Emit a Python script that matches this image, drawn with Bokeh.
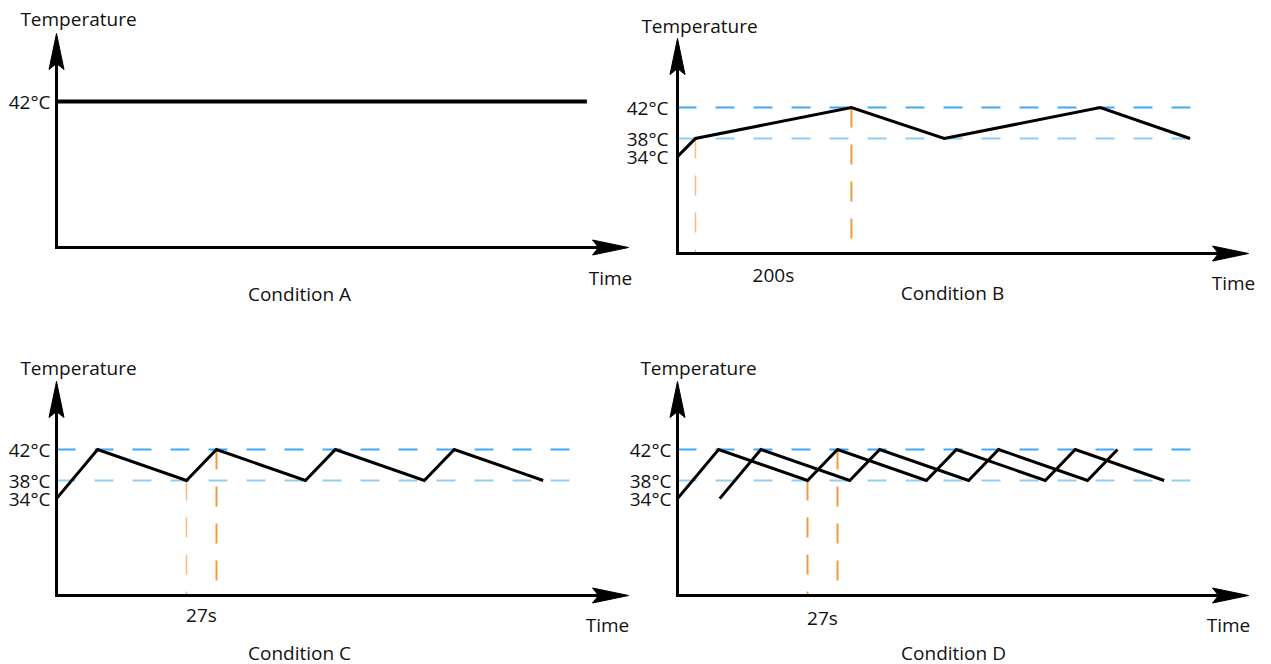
import math

from bokeh.core.properties import value
from bokeh.embed import file_html
from bokeh.models import LogScale, Range1d
from bokeh.plotting import figure
from bokeh.resources import INLINE

# ---------------------------------------------------------------- data
TICK_TEMPS = [42, 38, 34]
TICK_LABELS = ["42°C", "38°C", "34°C"]

# Condition A: a constant 42 °C hold
a_time = [0, 680]
a_temp = [42, 42]

# Condition B: slow 200 s ramps between 38 and 42 °C
b_time = [0, 23, 223, 342, 542, 657]
b_temp = [34, 38, 42, 38, 42, 38]
b_mark_time = [23, 223]
b_mark_temp = [38, 42]
b_span_text = "200s"

# Condition C: fast 27 s ramps between 38 and 42 °C
c_time = [0, 37, 117, 144, 224, 251, 331, 358, 438]
c_temp = [34, 42, 38, 42, 38, 42, 38, 42, 38]
c_mark_time = [117, 144]
c_mark_temp = [38, 42]
c_span_text = "27s"

# Condition D: two staggered copies of the fast cycle
d1_time = [0, 37, 117, 144, 224, 251, 331, 358, 438]
d1_temp = [34, 42, 38, 42, 38, 42, 38, 42, 38]
d2_time = [38, 75, 155, 182, 262, 289, 369, 396]
d2_temp = [34, 42, 38, 42, 38, 42, 38, 42]
d_mark_time = [117, 144]
d_mark_temp = [38, 42]
d_span_text = "27s"

# ---------------------------------------------------------------- style
W, H = 1271, 664
FONT = "Open Sans"
FONT_SIZE = "19px"
TEXT_COLOR = "#111111"
BLUE_HI = "#3fa9f5"
BLUE_LO = "#93cdf4"
ORANGE = "#f39a3c"
ORANGE_LIGHT = "#f8b984"

# The temperature axis is schematic: the log of the headroom below CEIL
# stretches the 38-42 °C band relative to the 34-38 °C one.
CEIL = 46.0
PX_PER_LN = 31 / math.log(2)


def yv(temp):
    return CEIL - temp


class Panel:
    """Page geometry of one sub-diagram (pixels, origin top-left)."""

    def __init__(self, name, ox, oy, y42, tip_y, tip_x, k):
        self.name = name
        self.ox, self.oy, self.y42 = ox, oy, y42
        self.tip_y, self.tip_x, self.k = tip_y, tip_x, k

    def t(self, gx):
        return (gx - self.ox) / self.k

    def v(self, gy):
        return (CEIL - 42) * math.exp((gy - self.y42) / PX_PER_LN)

    @property
    def kw(self):
        return dict(x_range_name=self.name, y_range_name=self.name)


p = figure(
    width=W, height=H,
    x_range=Range1d(0, W), y_range=Range1d(H, 0),
    x_axis_location=None, y_axis_location=None,
    toolbar_location=None, output_backend="svg",
    min_border=0, outline_line_color=None,
    background_fill_color="white", border_fill_color="white",
)
p.xgrid.grid_line_color = None
p.ygrid.grid_line_color = None


def register(pn):
    p.extra_x_ranges[pn.name] = Range1d(pn.t(0), pn.t(W))
    p.extra_y_ranges[pn.name] = Range1d(pn.v(H), pn.v(0))
    p.extra_y_scales[pn.name] = LogScale()


def text(pn, xs, ys, labels, align="center"):
    p.text(x=xs, y=ys, text=labels, text_font=value(FONT),
           text_font_size=FONT_SIZE, text_color=TEXT_COLOR,
           text_align=align, text_baseline="middle", **pn.kw)


def axes(pn, cond, time_pos, temp_pos, cond_pos):
    # axis lines
    p.line(x=[0, 0, pn.t(pn.tip_x - 20)],
           y=[pn.v(pn.tip_y + 20), pn.v(pn.oy), pn.v(pn.oy)],
           line_width=3, line_color="black", line_join="miter", **pn.kw)
    # arrow heads
    hl, nl, hw = 36, 30, 7.5
    p.patches(
        xs=[[0, pn.t(pn.ox + hw), 0, pn.t(pn.ox - hw)],
            [pn.t(pn.tip_x), pn.t(pn.tip_x - hl), pn.t(pn.tip_x - nl), pn.t(pn.tip_x - hl)]],
        ys=[[pn.v(pn.tip_y), pn.v(pn.tip_y + hl), pn.v(pn.tip_y + nl), pn.v(pn.tip_y + hl)],
            [pn.v(pn.oy), pn.v(pn.oy - hw), pn.v(pn.oy), pn.v(pn.oy + hw)]],
        fill_color="black", line_color="black", line_width=1, **pn.kw)
    text(pn, [pn.t(temp_pos[0])], [pn.v(temp_pos[1])], ["Temperature"])
    text(pn, [pn.t(time_pos[0])], [pn.v(time_pos[1])], ["Time"])
    text(pn, [pn.t(cond_pos[0])], [pn.v(cond_pos[1])], [cond])


def bands(pn, end_gx):
    t_end = pn.t(end_gx)
    p.segment(x0=[0, 0], x1=[t_end, t_end], y0=[yv(42), yv(38)], y1=[yv(42), yv(38)],
              line_color=[BLUE_HI, BLUE_LO], line_width=2, line_dash="19 19", **pn.kw)


def marks(pn, m_time, m_temp, colors, widths):
    p.segment(x0=m_time, x1=m_time, y0=[yv(t) for t in m_temp],
              y1=[pn.v(pn.oy)] * len(m_time),
              line_color=colors, line_width=widths, line_dash="20 17", **pn.kw)


def ticks(pn, temps, labels, gap):
    text(pn, [pn.t(pn.ox - gap)] * len(temps), [yv(t) for t in temps], labels, align="right")


def curve(pn, times, temps, width=3):
    p.line(x=times, y=[yv(t) for t in temps], line_width=width,
           line_color="black", line_join="miter", **pn.kw)


# ---------------------------------------------------------------- panels
pa = Panel("A", 56, 247, 101, 33, 628, 0.78)
pb = Panel("B", 677, 253, 107, 38, 1248, 0.78)
pc = Panel("C", 56, 595, 449, 381, 628, 30 / 27)
pd = Panel("D", 677, 595, 449, 381, 1248, 30 / 27)
for pn in (pa, pb, pc, pd):
    register(pn)

# Condition A
curve(pa, a_time, a_temp, width=4)
axes(pa, "Condition A", (610, 277), (78, 18), (299, 293))
ticks(pa, TICK_TEMPS[:1], TICK_LABELS[:1], 6)

# Condition B
bands(pb, 1207)
marks(pb, b_mark_time, b_mark_temp, [ORANGE_LIGHT, ORANGE], [1.5, 2])
curve(pb, b_time, b_temp)
axes(pb, "Condition B", (1233, 282), (699, 25), (952, 292))
ticks(pb, TICK_TEMPS, TICK_LABELS, 9)
text(pb, [sum(b_mark_time) / 2], [pb.v(274)], [b_span_text])

# Condition C
bands(pc, 587)
marks(pc, c_mark_time, c_mark_temp, [ORANGE_LIGHT, ORANGE], [1.5, 2])
curve(pc, c_time, c_temp)
axes(pc, "Condition C", (607, 624), (78, 367), (299, 652))
ticks(pc, TICK_TEMPS, TICK_LABELS, 6)
text(pc, [sum(c_mark_time) / 2], [pc.v(614)], [c_span_text])

# Condition D
bands(pd, 1207)
marks(pd, d_mark_time, d_mark_temp, [ORANGE, ORANGE], [2, 2])
curve(pd, d1_time, d1_temp)
curve(pd, d2_time, d2_temp)
axes(pd, "Condition D", (1228, 624), (698, 367), (953, 652))
ticks(pd, TICK_TEMPS, TICK_LABELS, 6)
text(pd, [sum(d_mark_time) / 2], [pd.v(617)], [d_span_text])

open("out.html", "w").write(file_html(p, INLINE))
